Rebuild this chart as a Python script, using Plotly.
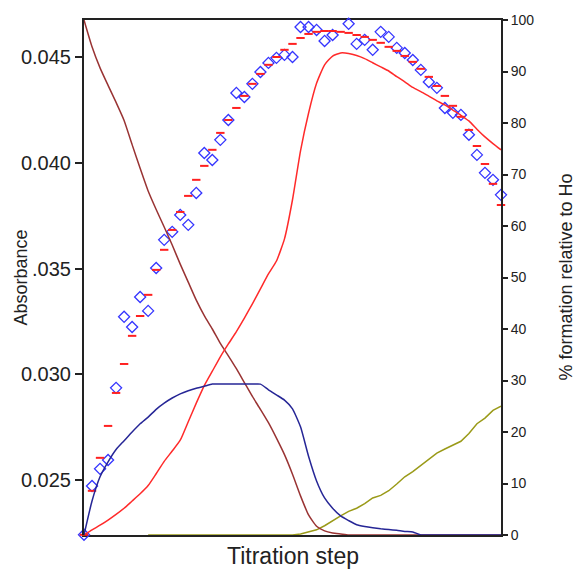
import plotly.graph_objects as go

steps = list(range(53))

absorbance_measured = [
    0.02241, 0.02472, 0.02553, 0.02595, 0.02936, 0.03272, 0.03224, 0.03366, 0.03300, 0.03503,
    0.03636, 0.03674, 0.03754, 0.03707, 0.03858, 0.04047, 0.04014, 0.04109, 0.04203, 0.04331,
    0.04312, 0.04374, 0.04430, 0.04473, 0.04497, 0.04511, 0.04501, 0.04643, 0.04643, 0.04629,
    0.04577, 0.04605, 0.04684, 0.04658, 0.04563, 0.04582, 0.04535, 0.04620, 0.04596, 0.04544,
    0.04520, 0.04487, 0.04440, 0.04383, 0.04355, 0.04260, 0.04237, 0.04227, 0.04133, 0.04038,
    0.03953, 0.03920, 0.03849,
]

absorbance_fit = [
    0.02241, 0.02449, 0.02605, 0.02756, 0.02912, 0.03049, 0.03182, 0.03276, 0.03376, 0.03494,
    0.03589, 0.03683, 0.03768, 0.03844, 0.03920, 0.03986, 0.04062, 0.04142, 0.04203, 0.04260,
    0.04317, 0.04374, 0.04421, 0.04464, 0.04501, 0.04535, 0.04563, 0.04591, 0.04610, 0.04620,
    0.04624, 0.04624, 0.04620, 0.04615, 0.04605, 0.04596, 0.04582, 0.04568, 0.04549, 0.04530,
    0.04506, 0.04478, 0.04445, 0.04407, 0.04364, 0.04317, 0.04270, 0.04218, 0.04156, 0.04080,
    0.03995, 0.03901, 0.03801,
]

species_brown = [
    100, 94.8, 90.7, 87.3, 84.0, 80.5, 75.8, 71.2, 66.8, 63.2,
    59.8, 56.3, 52.6, 49.1, 45.6, 42.6, 40.0, 37.2, 34.8, 32.3,
    29.6, 26.9, 24.4, 21.8, 18.8, 15.6, 11.8, 7.6, 3.9, 1.7,
    0.8, 0.4, 0.2, 0, 0, 0, 0, 0, 0, 0,
    0, 0, 0, 0, 0, 0, 0, 0, 0, 0,
    0, 0, 0,
]

species_navy = [
    0, 6.6, 11.3, 14.2, 16.6, 18.3, 20.0, 21.6, 22.9, 24.4,
    25.6, 26.6, 27.4, 28.0, 28.5, 28.9, 29.3, 29.3, 29.3, 29.3,
    29.3, 29.3, 29.3, 28.2, 27.2, 26.2, 24.5, 21.0, 15.3, 10.5,
    7.2, 5.2, 3.7, 2.8, 2.0, 1.65, 1.4, 1.2, 1.05, 0.9,
    0.7, 0.6, 0, 0, 0, 0, 0, 0, 0, 0,
    0, 0, 0,
]

species_red = [
    0, 1.0, 1.9, 2.9, 4.0, 5.2, 6.6, 8.0, 9.6, 11.9,
    14.3, 16.3, 18.4, 22.0, 25.6, 29.0, 31.8, 34.6, 37.1, 39.5,
    42.1, 44.9, 47.8, 50.7, 53.2, 57.5, 65.1, 74.6, 81.9, 87.7,
    91.3, 93.0, 93.6, 93.5, 93.1, 92.5, 91.7, 90.9, 90.1, 89.0,
    88.0, 86.9, 86.1, 85.2, 84.3, 83.5, 82.5, 81.5, 80.4, 78.8,
    77.3, 76.0, 74.8,
]

species_olive = [None] * 8 + [0] * 19 + [
    0.2, 0.6, 1.0, 1.8, 2.8, 3.7, 4.6, 5.2, 6.1, 7.2,
    7.7, 8.6, 9.9, 11.3, 12.3, 13.5, 14.8, 15.9, 16.7, 17.5,
    18.2, 19.7, 21.6, 22.7, 24.2, 25.0,
]

left_tickvals = [0.025, 0.030, 0.035, 0.040, 0.045]
left_ticktext = ["0.025", "0.030", ".035", "0.040", "0.045"]
right_tickvals = list(range(0, 101, 10))

FONT = "Liberation Sans, Arial, sans-serif"
AX = "#222222"

fig = go.Figure()

fig.add_trace(go.Scatter(
    x=steps, y=absorbance_measured, mode="markers", yaxis="y",
    marker=dict(symbol="diamond-open", size=8.5, color="#3535FF", line=dict(width=1.3, color="#3535FF")),
    cliponaxis=False, showlegend=False,
))
fig.add_trace(go.Scatter(
    x=steps, y=absorbance_fit, mode="markers", yaxis="y",
    marker=dict(symbol="line-ew", size=6, color="#FF2020", line=dict(width=2, color="#FF2020")),
    cliponaxis=False, showlegend=False,
))

fig.add_trace(go.Scatter(x=steps, y=species_olive, mode="lines", yaxis="y2",
                         line=dict(color="#9A9A18", width=1.5), showlegend=False))
fig.add_trace(go.Scatter(x=steps, y=species_brown, mode="lines", yaxis="y2",
                         line=dict(color="#993333", width=1.5, shape="spline", smoothing=0.5),
                         showlegend=False))
fig.add_trace(go.Scatter(x=steps, y=species_red, mode="lines", yaxis="y2",
                         line=dict(color="#FF2A2A", width=1.5, shape="spline", smoothing=0.5),
                         showlegend=False))
fig.add_trace(go.Scatter(x=steps, y=species_navy, mode="lines", yaxis="y2",
                         line=dict(color="#262696", width=1.5, shape="spline", smoothing=0.5),
                         showlegend=False))

fig.update_layout(
    width=574, height=571,
    margin=dict(l=84, r=73, t=20, b=36),
    paper_bgcolor="white", plot_bgcolor="white",
    font=dict(family=FONT, color=AX),
    xaxis=dict(range=[0, 52], showticklabels=False, ticks="", showline=True, mirror=True,
               linecolor=AX, linewidth=2, showgrid=False, zeroline=False, layer="below traces"),
    yaxis=dict(range=[0.0224, 0.04676], tickvals=left_tickvals, ticktext=left_ticktext,
               ticks="outside", ticklen=7, tickwidth=2, tickcolor=AX,
               showline=True, linecolor=AX, linewidth=2, showgrid=False, zeroline=False,
               tickfont=dict(size=20, family=FONT, color=AX)),
    yaxis2=dict(overlaying="y", side="right", range=[0, 100], tickvals=right_tickvals,
                ticks="outside", ticklen=5, tickwidth=2, tickcolor=AX,
                showline=True, linecolor=AX, linewidth=2, showgrid=False, zeroline=False,
                tickfont=dict(size=14, family=FONT, color=AX)),
    annotations=[
        dict(text="Absorbance", xref="paper", yref="paper", x=(20 - 84) / 417, y=0.5,
             xanchor="center", yanchor="middle", textangle=-90, showarrow=False,
             font=dict(size=18, family=FONT, color=AX)),
        dict(text="% formation relative to Ho", xref="paper", yref="paper", x=(565 - 84) / 417, y=0.5,
             xanchor="center", yanchor="middle", textangle=-90, showarrow=False,
             font=dict(size=18, family=FONT, color=AX)),
        dict(text="Titration step", xref="paper", yref="paper", x=(293 - 84) / 417, y=(535 - 556) / 515,
             xanchor="center", yanchor="middle", showarrow=False,
             font=dict(size=23, family=FONT, color=AX)),
    ],
)

fig.write_html("out.html")
